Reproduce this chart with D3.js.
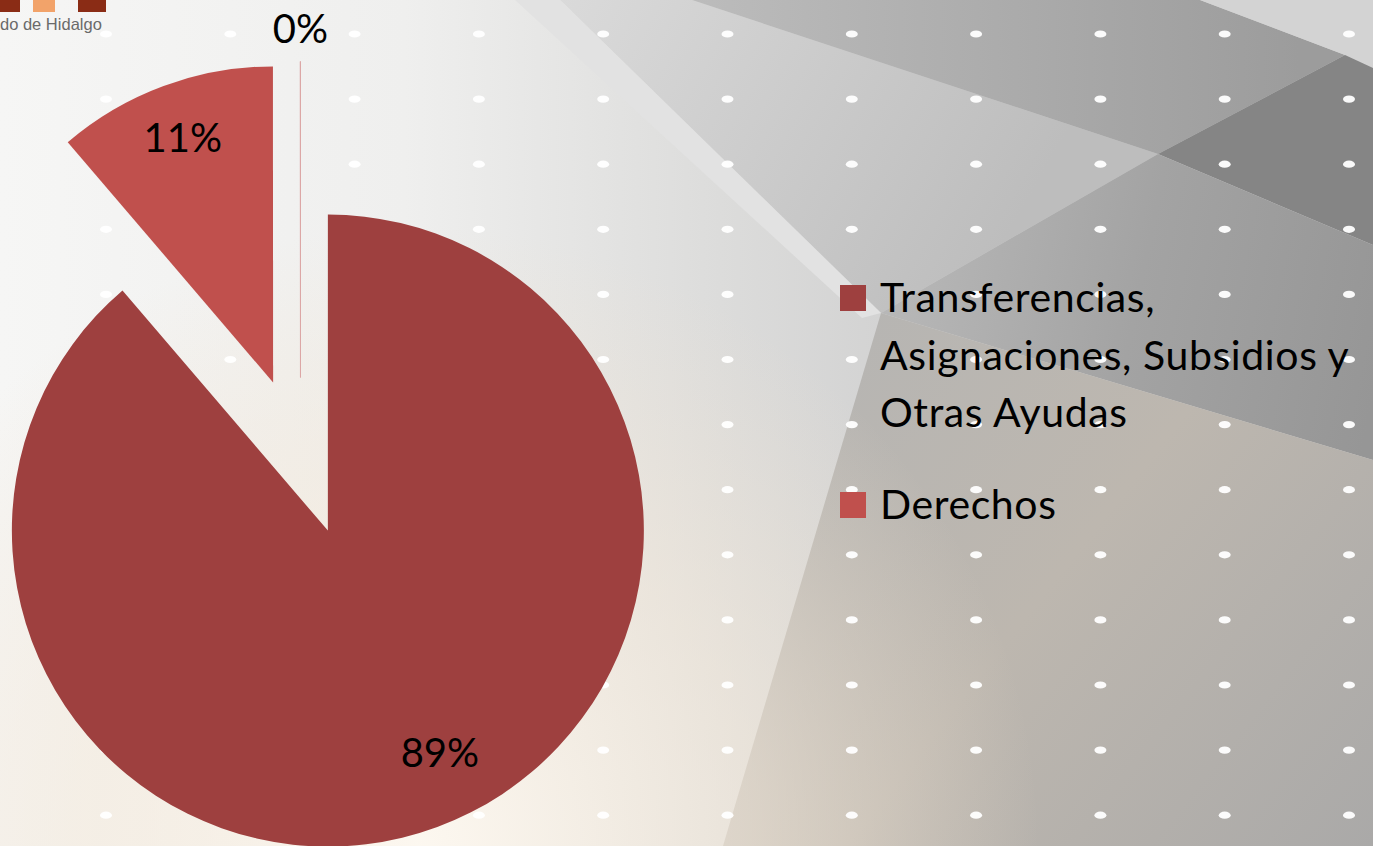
<!DOCTYPE html>
<html>
<head>
<meta charset="utf-8">
<script src="https://cdnjs.cloudflare.com/ajax/libs/d3/7.8.5/d3.min.js"></script>
<style>
	html, body { margin: 0; padding: 0; overflow: hidden; background: #f2f1ef; }
	svg { display: block; }
</style>
</head>
<body>
<div id="chart"></div>
<script>

///////////////////////////////////////////////////////////////////////////
//////////////////////////////// The data /////////////////////////////////
///////////////////////////////////////////////////////////////////////////

var categories = ["Transferencias, Asignaciones, Subsidios y Otras Ayudas", "Derechos", "Otros"];
var shares = [88.74, 11.25, 0.01];
var inLegend = [true, true, false];
var sliceColors = ["#9E403F", "#C0504D", "#C0504D"];

///////////////////////////////////////////////////////////////////////////
//////////////////// Set up and initiate svg containers ///////////////////
///////////////////////////////////////////////////////////////////////////

var width = 1373,
	height = 846;

var svg = d3.select("#chart")
	.append("svg")
	.attr("width", width)
	.attr("height", height);

var defs = svg.append("defs");

function makeLinear(id, x1, y1, x2, y2, stops) {
	var g = defs.append("linearGradient")
		.attr("id", id)
		.attr("gradientUnits", "userSpaceOnUse")
		.attr("x1", x1).attr("y1", y1).attr("x2", x2).attr("y2", y2);
	stops.forEach(function(s) { g.append("stop").attr("offset", s[0]).attr("stop-color", s[1]); });
}

///////////////////////////////////////////////////////////////////////////
///////////////////////////// Slide background ////////////////////////////
///////////////////////////////////////////////////////////////////////////

makeLinear("bg-base", 0, 0, 900, 0, [[0, "#f6f6f5"], [0.45, "#efefee"], [0.8, "#dcdcdb"], [1, "#d2d2d2"]]);
makeLinear("bg-top", 692, 0, 1300, 0, [[0, "#bcbcbc"], [1, "#9c9c9c"]]);
makeLinear("bg-mid", 560, 0, 1000, 250, [[0, "#dadada"], [1, "#bdbdbd"]]);
makeLinear("bg-right", 881, 300, 1373, 400, [[0, "#b8b8b8"], [0.5, "#a3a3a3"], [1, "#969696"]]);
makeLinear("bg-low", 780, 380, 1373, 846, [[0, "#b6b5b3"], [0.45, "#bdb7af"], [1, "#aaa9a8"]]);

svg.append("rect").attr("width", width).attr("height", height).style("fill", "url(#bg-base)");

//Flat grey facets of the template, they all fan out from near the legend
var facets = [
	{ pts: [[560,0],[692,0],[1158,154],[881,313]], fill: "url(#bg-mid)" },
	{ pts: [[515,0],[560,0],[881,313],[862,318]], fill: "#e2e2e2" },
	{ pts: [[692,0],[1200,0],[1345,55],[1158,154]], fill: "url(#bg-top)" },
	{ pts: [[1200,0],[1373,0],[1373,68],[1345,55]], fill: "#d3d3d3" },
	{ pts: [[1158,154],[1345,55],[1373,68],[1373,245]], fill: "#858585" },
	{ pts: [[881,313],[1158,154],[1373,245],[1373,460]], fill: "url(#bg-right)" },
	{ pts: [[881,313],[1373,460],[1373,846],[723,846]], fill: "url(#bg-low)" }
];
svg.selectAll(".facet")
	.data(facets)
	.enter().append("polygon")
	.attr("class", "facet")
	.attr("points", function(d) { return d.pts.join(" "); })
	.style("fill", function(d) { return d.fill; });

//Warm glow at the bottom left
var warmGrad = defs.append("radialGradient")
	.attr("id", "bg-warm")
	.attr("gradientUnits", "userSpaceOnUse")
	.attr("cx", 420).attr("cy", 846).attr("r", 620);
warmGrad.append("stop").attr("offset", 0).attr("stop-color", "#fdf8f0").attr("stop-opacity", 0.95);
warmGrad.append("stop").attr("offset", 0.55).attr("stop-color", "#f4e9da").attr("stop-opacity", 0.55);
warmGrad.append("stop").attr("offset", 1).attr("stop-color", "#efe2d0").attr("stop-opacity", 0);
svg.append("rect").attr("width", width).attr("height", height).style("fill", "url(#bg-warm)");

//Grid of little white dots
var dotX = d3.range(11).map(function(i) { return 106 + i * 124.3; }),
	dotY = d3.range(13).map(function(j) { return 34 + j * 65.1; });
svg.append("g").selectAll("ellipse")
	.data(d3.cross(dotX, dotY))
	.enter().append("ellipse")
	.attr("cx", function(d) { return d[0]; })
	.attr("cy", function(d) { return d[1]; })
	.attr("rx", 6).attr("ry", 3.6)
	.style("fill", "#ffffff")
	.style("opacity", 0.95);

//Remains of the logo in the corner
var logo = svg.append("g");
[[0, 20, "#8a2c15"], [33, 22, "#f2a36a"], [78, 28, "#8a2c15"]].forEach(function(b) {
	logo.append("rect").attr("x", b[0]).attr("y", 0).attr("width", b[1]).attr("height", 12).style("fill", b[2]);
});
logo.append("text")
	.attr("x", 0).attr("y", 30)
	.style("font-family", "Liberation Sans, Arial, sans-serif")
	.style("font-size", "16.5px")
	.style("fill", "#6a6a6a")
	.text("do de Hidalgo");

///////////////////////////////////////////////////////////////////////////
/////////////////////////////// Exploded pie //////////////////////////////
///////////////////////////////////////////////////////////////////////////

var center = [300.5, 456.5],
	radius = 316,
	explode = 79;

var pie = d3.pie().sort(null).value(function(d) { return d; });
var arc = d3.arc().innerRadius(0).outerRadius(radius);
var arcs = pie(shares);

function offset(angle, r) {
	return [Math.sin(angle) * r, -Math.cos(angle) * r];
}

var pieWrapper = svg.append("g")
	.attr("transform", "translate(" + center[0] + "," + center[1] + ")");

var slices = pieWrapper.selectAll(".slice")
	.data(arcs)
	.enter().append("g")
	.attr("class", "slice")
	.attr("transform", function(d) {
		var o = offset((d.startAngle + d.endAngle) / 2, explode);
		return "translate(" + o[0] + "," + o[1] + ")";
	});

slices.append("path")
	.attr("d", arc)
	.style("fill", function(d, i) { return sliceColors[i]; })
	.style("stroke", function(d, i) { return shares[i] < 1 ? "#dca7a6" : "none"; })
	.style("stroke-width", 1);

//Percentage labels, big slices inside, tiny ones just outside the rim
var fmt = d3.format(".0%"),
	total = d3.sum(shares),
	labelSize = 40;

slices.append("text")
	.attr("transform", function(d) {
		var frac = d.value / total,
			mid = (d.startAngle + d.endAngle) / 2,
			r = radius * 0.825;
		if (frac > 0.5) { mid -= 6.5 * Math.PI / 180; r = radius * 0.787; } //Excel's best fit for the big one
		if (frac < 0.02) r = radius * 1.105;
		var o = offset(mid, r);
		return "translate(" + o[0] + "," + (o[1] + labelSize * 0.36) + ")";
	})
	.attr("text-anchor", "middle")
	.style("font-family", "Lato, sans-serif")
	.style("font-size", labelSize + "px")
	.style("fill", "#000")
	.text(function(d) { return fmt(d.value / total); });

///////////////////////////////////////////////////////////////////////////
/////////////////////////////////// Legend ////////////////////////////////
///////////////////////////////////////////////////////////////////////////

var legendX = 840,
	legendY = 285,
	lineH = 57.5,
	boxSize = 26,
	textX = 880,
	maxTextW = 500;

var legend = svg.append("g").attr("class", "legend");
var yPos = legendY;

categories.forEach(function(name, i) {
	if (!inLegend[i]) return;

	legend.append("rect")
		.attr("x", legendX)
		.attr("y", yPos)
		.attr("width", boxSize)
		.attr("height", boxSize)
		.style("fill", sliceColors[i]);

	var txt = legend.append("text")
		.attr("x", textX)
		.attr("y", yPos + 27)
		.style("font-family", "Lato, sans-serif")
		.style("font-size", "41px")
		.style("letter-spacing", "0.6px")
		.style("fill", "#000");

	//simple word wrap
	var words = name.split(" "),
		line = [],
		lineNum = 0,
		tspan = txt.append("tspan").attr("x", textX).attr("dy", 0);
	words.forEach(function(w) {
		line.push(w);
		tspan.text(line.join(" "));
		if (tspan.node().getComputedTextLength() > maxTextW && line.length > 1) {
			line.pop();
			tspan.text(line.join(" "));
			line = [w];
			lineNum++;
			tspan = txt.append("tspan").attr("x", textX).attr("dy", lineH).text(w);
		}
	});

	yPos += (lineNum + 1) * lineH + 34.5;
});

</script>
</body>
</html>
